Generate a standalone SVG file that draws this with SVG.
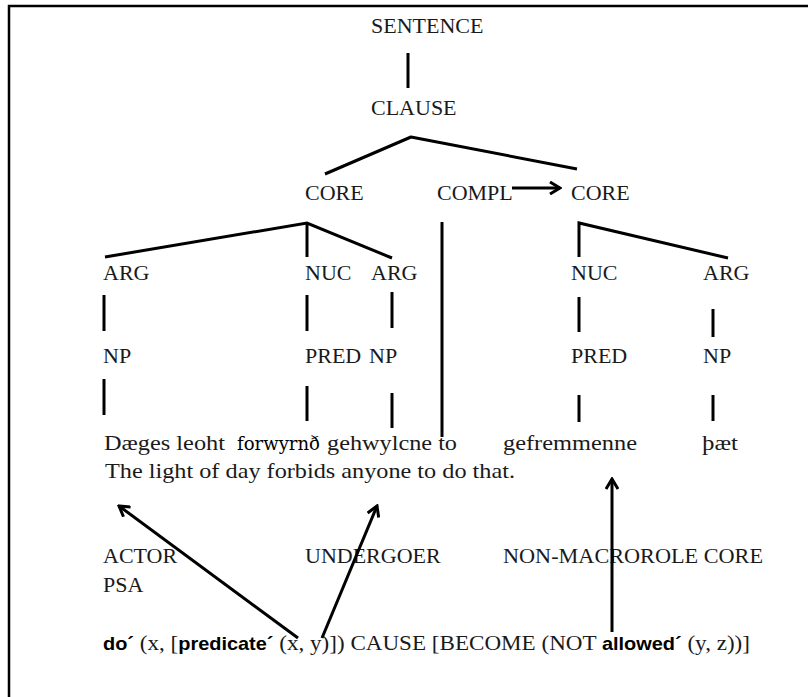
<svg xmlns="http://www.w3.org/2000/svg" width="808" height="697" viewBox="0 0 808 697">
<defs>
<style>
.t{font-family:"Liberation Serif","Times New Roman",serif;font-size:22px;fill:#1a1a1a}
.b{font-family:"Liberation Sans",Arial,sans-serif;font-size:19px;font-weight:bold;fill:#000}
.l{stroke:#000;stroke-width:3;fill:none;stroke-linecap:butt}
</style>
<marker id="ah" markerWidth="14" markerHeight="14" refX="12" refY="7" orient="auto" markerUnits="userSpaceOnUse">
<path d="M2,1 L12,7 L2,13" fill="none" stroke="#000" stroke-width="3"/>
</marker>
</defs>
<rect width="808" height="697" fill="#fff"/>
<path d="M9,697 V6 H808" fill="none" stroke="#000" stroke-width="2.5"/>

<g id="sentence"><text class="t" x="371" y="33">SENTENCE</text></g>
<g id="clause"><text class="t" x="371" y="115">CLAUSE</text></g>
<g id="core1"><text class="t" x="305" y="200">CORE</text></g>
<g id="compl"><text class="t" x="437" y="200">COMPL</text></g>
<g id="core2"><text class="t" x="571" y="200">CORE</text></g>
<g id="arg1"><text class="t" x="103" y="280">ARG</text></g>
<g id="nuc1"><text class="t" x="305" y="280">NUC</text></g>
<g id="arg2"><text class="t" x="371" y="280">ARG</text></g>
<g id="nuc2"><text class="t" x="571" y="280">NUC</text></g>
<g id="arg3"><text class="t" x="703" y="280">ARG</text></g>
<g id="np1"><text class="t" x="103" y="363">NP</text></g>
<g id="pred1"><text class="t" x="305" y="363">PRED</text></g>
<g id="np2"><text class="t" x="369" y="363">NP</text></g>
<g id="pred2"><text class="t" x="571" y="363">PRED</text></g>
<g id="np3"><text class="t" x="703" y="363">NP</text></g>

<g id="oe-text">
<text class="t" x="104" y="450" textLength="121" lengthAdjust="spacingAndGlyphs">Dæges leoht</text>
<text x="237" y="450" style="font-family:'DejaVu Serif',serif;font-size:18px;fill:#000" textLength="83" lengthAdjust="spacingAndGlyphs">forwyrnð</text>
<text class="t" x="327" y="450" textLength="130" lengthAdjust="spacingAndGlyphs">gehwylcne to</text>
<text class="t" x="503" y="450" textLength="134" lengthAdjust="spacingAndGlyphs">gefremmenne</text>
<text class="t" x="702" y="450" textLength="36" lengthAdjust="spacingAndGlyphs">þæt</text>
</g>
<g id="gloss"><text class="t" x="105" y="478" textLength="410" lengthAdjust="spacingAndGlyphs">The light of day forbids anyone to do that.</text></g>

<g id="actor"><text class="t" x="103" y="563">ACTOR</text><text class="t" x="103" y="592">PSA</text></g>
<g id="undergoer"><text class="t" x="305" y="563">UNDERGOER</text></g>
<g id="nmr"><text class="t" x="503" y="563" textLength="260" lengthAdjust="spacingAndGlyphs">NON-MACROROLE CORE</text></g>

<g id="logical-structure">
<text x="103" y="650" class="t" textLength="647" lengthAdjust="spacingAndGlyphs"><tspan class="b">do´</tspan> (x, [<tspan class="b">predicate´</tspan> (x, y)]) CAUSE [BECOME (NOT <tspan class="b">allowed´</tspan> (y, z))]</text>
</g>

<g id="connectors">
<line class="l" x1="408" y1="53" x2="408" y2="88"/>
<polyline class="l" points="325,174 411,137 577,169" stroke-linejoin="round"/>
<line class="l" x1="512" y1="188" x2="560" y2="188" marker-end="url(#ah)"/>
<polyline class="l" points="105,257 307,223 392,258"/>
<line class="l" x1="307" y1="223" x2="307" y2="257"/>
<polyline class="l" points="579,257 579,223 728,258"/>
<line class="l" x1="442" y1="222" x2="442" y2="437"/>
<line class="l" x1="104" y1="295" x2="104" y2="331"/>
<line class="l" x1="307" y1="295" x2="307" y2="331"/>
<line class="l" x1="392" y1="292" x2="392" y2="328"/>
<line class="l" x1="579" y1="297" x2="579" y2="332"/>
<line class="l" x1="713" y1="309" x2="713" y2="337"/>
<line class="l" x1="104" y1="379" x2="104" y2="415"/>
<line class="l" x1="307" y1="386" x2="307" y2="421"/>
<line class="l" x1="392" y1="393" x2="392" y2="428"/>
<line class="l" x1="579" y1="395" x2="579" y2="422"/>
<line class="l" x1="713" y1="395" x2="713" y2="421"/>
<line class="l" x1="298" y1="638" x2="119" y2="506" marker-end="url(#ah)"/>
<line class="l" x1="322" y1="638" x2="377" y2="506" marker-end="url(#ah)"/>
<line class="l" x1="612" y1="632" x2="612" y2="479" marker-end="url(#ah)"/>
</g>
</svg>
